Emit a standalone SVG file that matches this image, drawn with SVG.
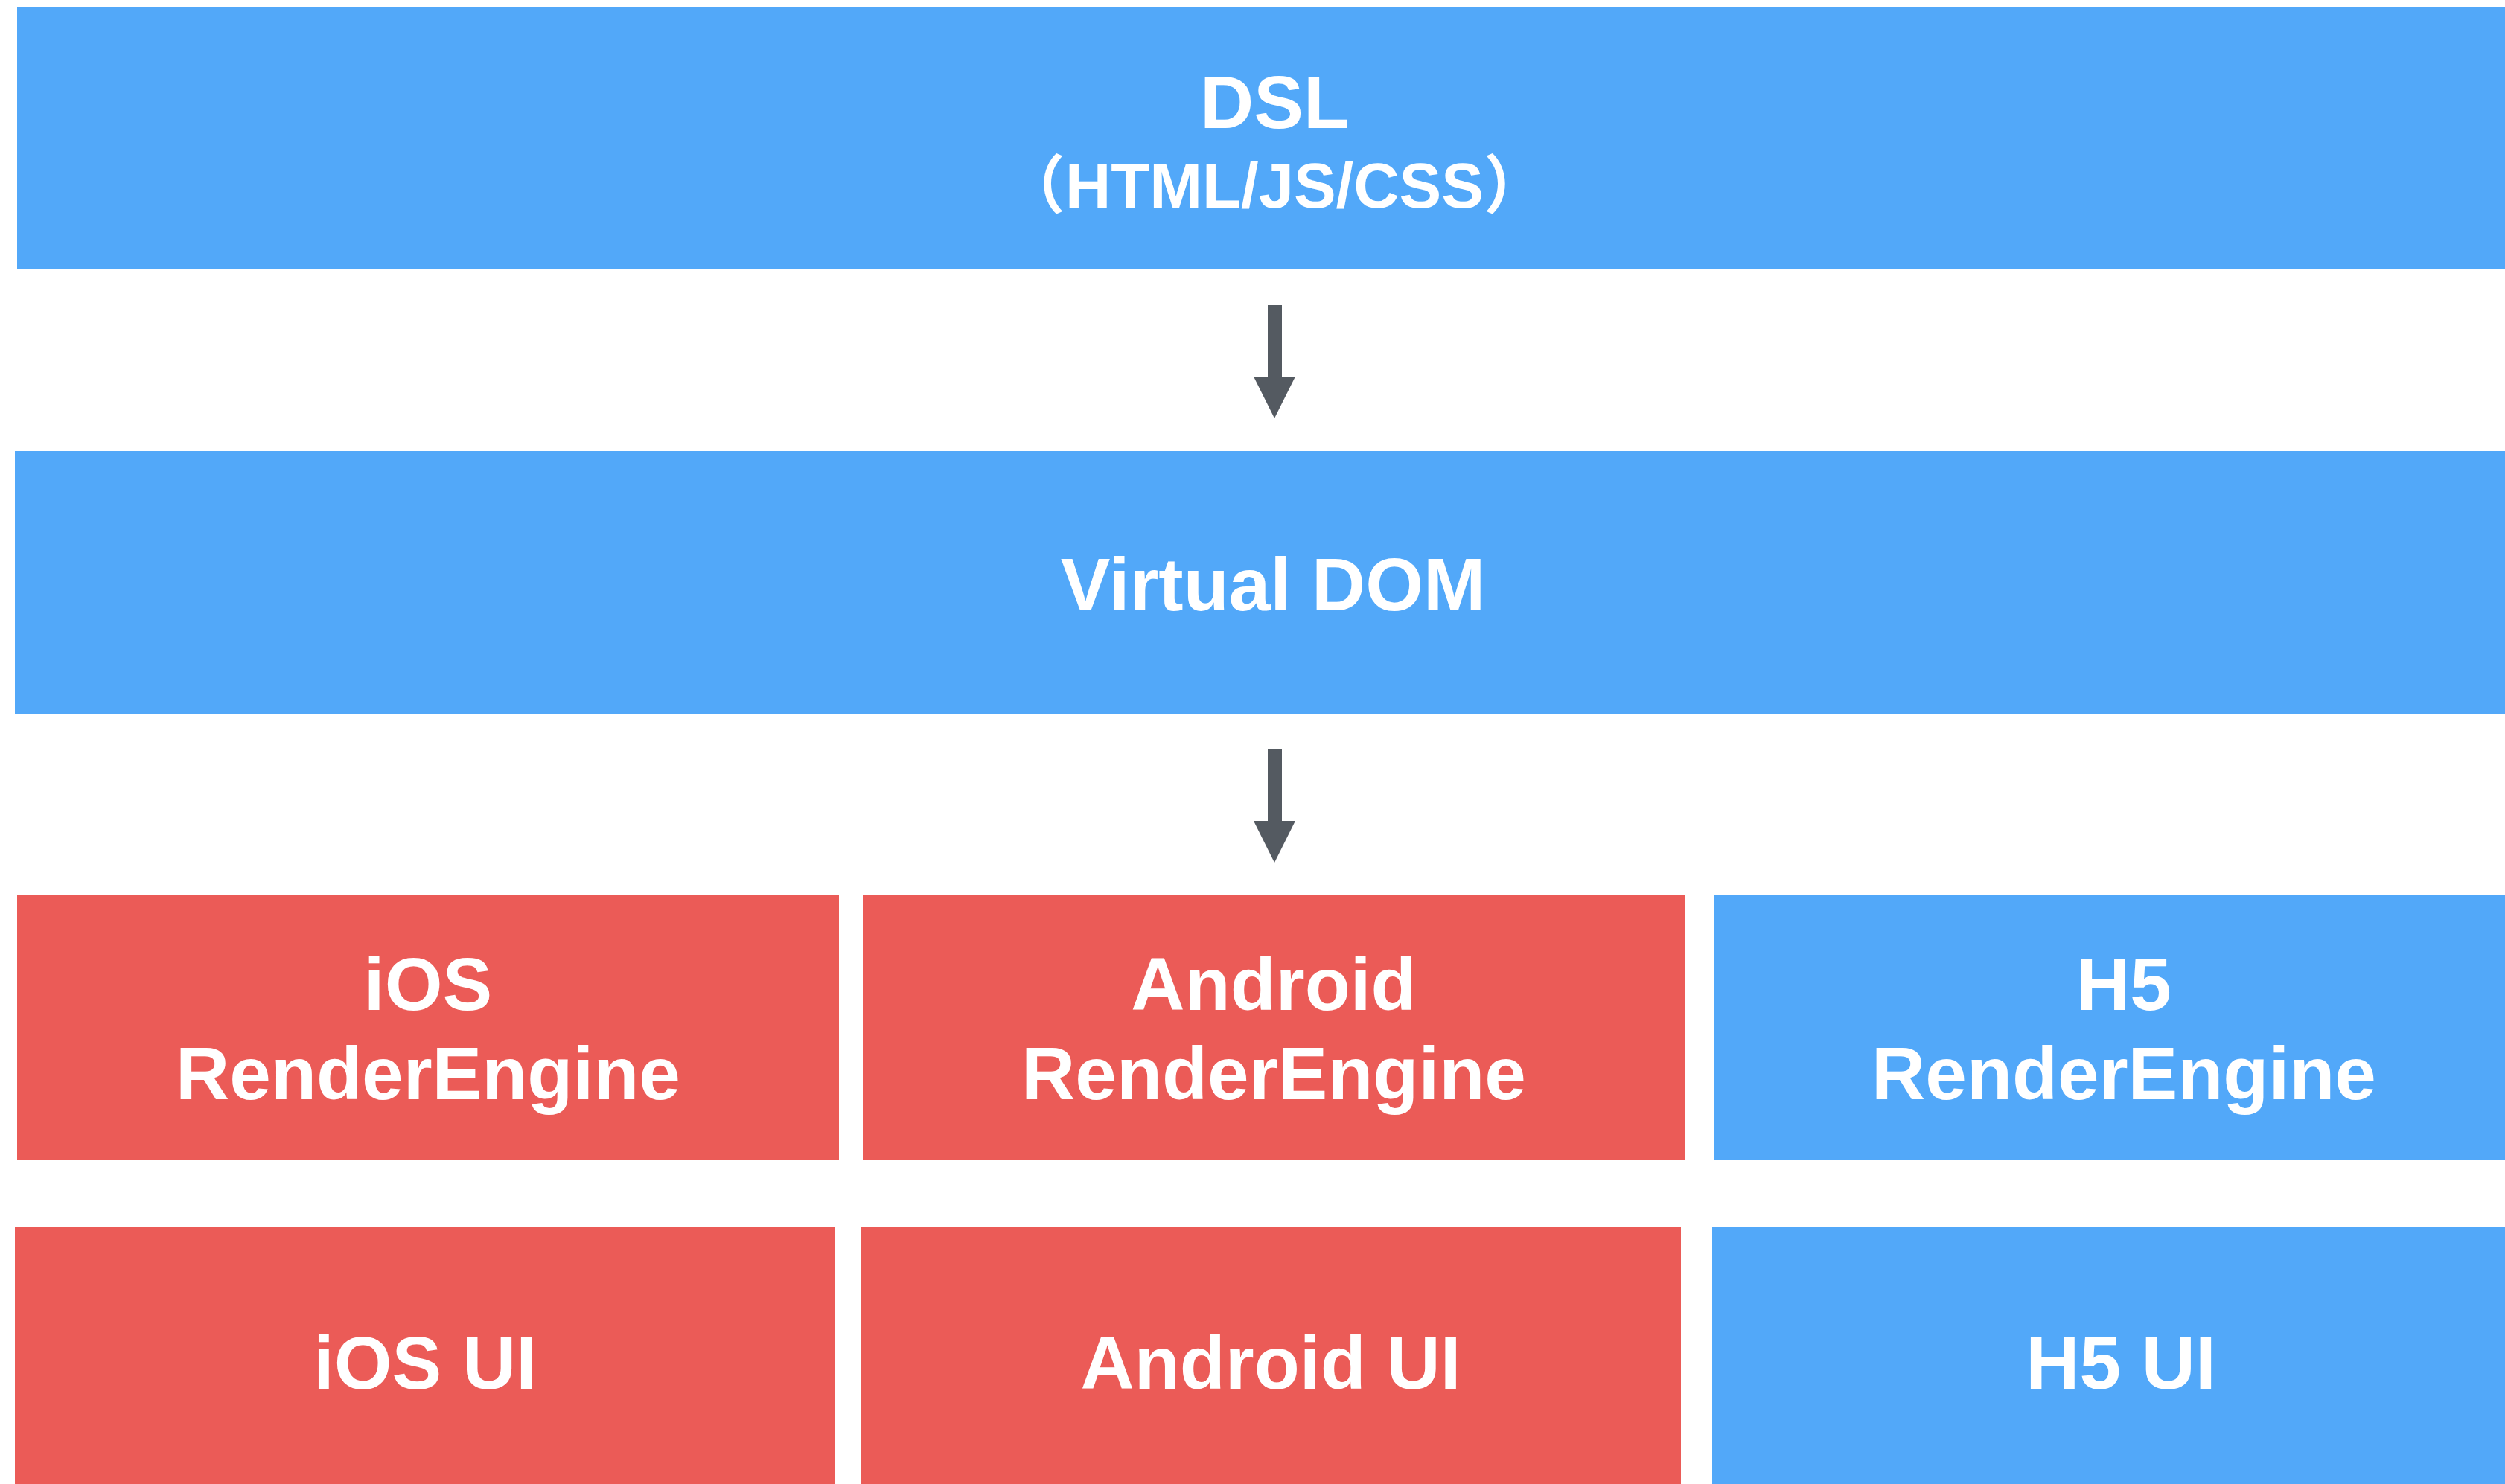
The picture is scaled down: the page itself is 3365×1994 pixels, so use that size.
<svg xmlns="http://www.w3.org/2000/svg" width="3365" height="1994" viewBox="0 0 3365 1994">
  <style>
    .blue { fill: #52A8F9; }
    .red { fill: #EB5B57; }
    .lbl { fill: #FFFFFF; font-family: "Liberation Sans", "Noto Sans CJK SC", Arial, sans-serif; font-weight: bold; font-size: 100px; text-anchor: middle; }
    .sub { font-size: 85px; }
    .arrow { fill: #545A61; }
  </style>
  <rect width="3365" height="1994" fill="#FFFFFF"/>
  <g id="dsl">
    <rect class="blue" x="23" y="9" width="3342" height="352"/>
    <text class="lbl" x="1712" y="172">DSL</text>
    <text class="lbl sub" x="1712" y="279">（HTML/JS/CSS）</text>
  </g>
  <g id="vdom">
    <rect class="blue" x="20" y="606" width="3345" height="354"/>
    <text class="lbl" x="1710" y="820">Virtual DOM</text>
  </g>
  <g id="ios-engine">
    <rect class="red" x="23" y="1203" width="1104" height="355"/>
    <text class="lbl" x="575" y="1357">iOS</text>
    <text class="lbl" x="575" y="1477">RenderEngine</text>
  </g>
  <g id="android-engine">
    <rect class="red" x="1159" y="1203" width="1104" height="355"/>
    <text class="lbl" x="1711" y="1357">Android</text>
    <text class="lbl" x="1711" y="1477">RenderEngine</text>
  </g>
  <g id="h5-engine">
    <rect class="blue" x="2303" y="1203" width="1062" height="355"/>
    <text class="lbl" x="2853" y="1357">H5</text>
    <text class="lbl" x="2853" y="1477">RenderEngine</text>
  </g>
  <g id="ios-ui">
    <rect class="red" x="20" y="1649" width="1102" height="345"/>
    <text class="lbl" x="571" y="1866">iOS UI</text>
  </g>
  <g id="android-ui">
    <rect class="red" x="1156" y="1649" width="1102" height="345"/>
    <text class="lbl" x="1707" y="1866">Android UI</text>
  </g>
  <g id="h5-ui">
    <rect class="blue" x="2300" y="1649" width="1065" height="345"/>
    <text class="lbl" x="2849" y="1866">H5 UI</text>
  </g>
  <g id="connectors">
    <path class="arrow" d="M1703 410 H1722 V506 H1740 L1712 562 L1684 506 H1703 Z"/>
    <path class="arrow" d="M1703 1007 H1722 V1103 H1740 L1712 1159 L1684 1103 H1703 Z"/>
  </g>
</svg>
